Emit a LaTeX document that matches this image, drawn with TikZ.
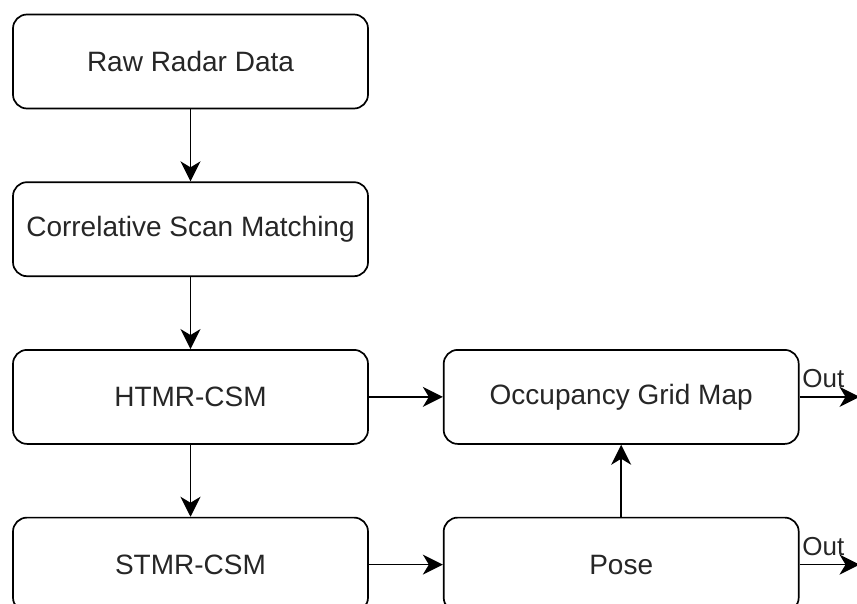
\documentclass[tikz,border=0pt]{standalone}
\usepackage{fontspec}
\setmainfont{Liberation Sans}
\usetikzlibrary{shapes,arrows.meta,positioning,calc}

\begin{document}
\begin{tikzpicture}[
        x=1pt, y=1pt,
        node distance=72pt and 74pt,
        block/.style={draw, rectangle, rounded corners=14pt, line width=1.7pt,
            minimum width=355pt, minimum height=94pt, inner sep=0pt,
            font=\fontsize{28}{32}\selectfont, text=black!85},
        flow/.style={-{Stealth[length=20pt, width=20pt, inset=6pt]}, line width=1.7pt},
        outlabel/.style={font=\fontsize{26}{30}\selectfont, inner sep=0pt, text=black!85,
            anchor=base west, xshift=2pt, yshift=9pt}
    ]
    \useasboundingbox (0,0) rectangle (857,-604);
    % processing chain
    \node[block] (raw) at (190.5,-61.5) {Raw Radar Data};
    \node[block, below=of raw] (csm) {Correlative Scan Matching};
    \node[block, below=of csm] (htmr) {HTMR-CSM};
    \node[block, below=of htmr] (stmr) {STMR-CSM};
    % outputs
    \node[block, right=of htmr] (ogm) {Occupancy Grid Map};
    \node[block, right=of stmr] (pose) {Pose};
    \coordinate (ogmout) at ($(ogm.east)+(60,0)$);
    \coordinate (poseout) at ($(pose.east)+(60,0)$);

    \draw[flow] (raw) -- (csm);
    \draw[flow] (csm) -- (htmr);
    \draw[flow] (htmr) -- (stmr);
    \draw[flow] (htmr) -- (ogm);
    \draw[flow] (stmr) -- (pose);
    \draw[flow] (pose) -- (ogm);
    \draw[flow] (ogm.east) -- (ogmout) node[outlabel, pos=0] {Out};
    \draw[flow] (pose.east) -- (poseout) node[outlabel, pos=0] {Out};
\end{tikzpicture}
\end{document}
